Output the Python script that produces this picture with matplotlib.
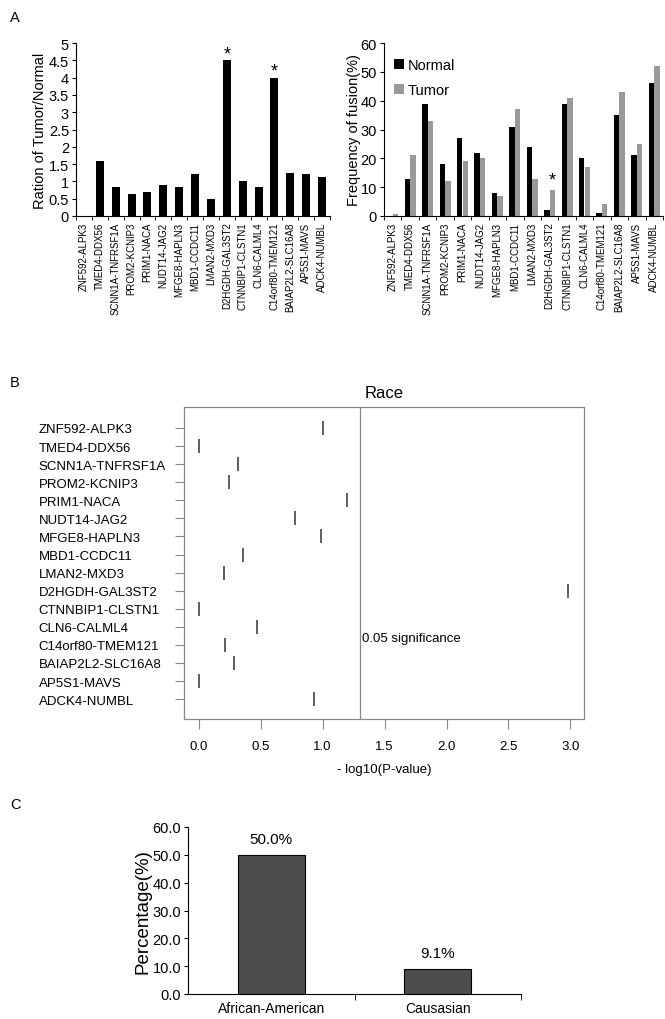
import matplotlib
matplotlib.use('Agg')
import matplotlib.pyplot as plt
import numpy as np
from matplotlib.ticker import FuncFormatter, FixedLocator

plt.rcParams['font.family'] = ['Liberation Sans', 'DejaVu Sans']

fusions = ['ZNF592-ALPK3', 'TMED4-DDX56', 'SCNN1A-TNFRSF1A', 'PROM2-KCNIP3',
           'PRIM1-NACA', 'NUDT14-JAG2', 'MFGE8-HAPLN3', 'MBD1-CCDC11',
           'LMAN2-MXD3', 'D2HGDH-GAL3ST2', 'CTNNBIP1-CLSTN1', 'CLN6-CALML4',
           'C14orf80-TMEM121', 'BAIAP2L2-SLC16A8', 'AP5S1-MAVS', 'ADCK4-NUMBL']
ratio = [0, 1.6, 0.85, 0.63, 0.68, 0.9, 0.85, 1.2, 0.5, 4.5, 1.02, 0.85, 4.0, 1.25, 1.2, 1.12]
normal = [0, 13, 39, 18, 27, 22, 8, 31, 24, 2, 39, 20, 1, 35, 21, 46]
tumor = [0.8, 21, 33, 12, 19, 20, 7, 37, 13, 9, 41, 17, 4, 43, 25, 52]
ratio_star = ['D2HGDH-GAL3ST2', 'C14orf80-TMEM121']
freq_star = ['D2HGDH-GAL3ST2']
neglogp = [1.0, 0.0, 0.32, 0.24, 1.20, 0.78, 0.99, 0.36, 0.20, 2.98,
           0.0, 0.47, 0.21, 0.28, 0.0, 0.93]
race = ['African-American', 'Causasian']
race_pct = [50.0, 9.1]

W, H = 665, 1020
fig = plt.figure(figsize=(W / 100, H / 100), dpi=100)


def box(l, t, r, b):
    return [l / W, 1 - b / H, (r - l) / W, (b - t) / H]


x = np.arange(len(fusions))
bounds = np.arange(len(fusions) + 1) - 0.5

# ---- A left
ax1 = fig.add_axes(box(76, 44, 330, 217))
ax1.bar(x, ratio, width=0.5, color='black')
for name in ratio_star:
    i = fusions.index(name)
    ax1.text(i, ratio[i] - 0.05, '*', ha='center', va='bottom', fontsize=13)
ax1.set_xlim(-0.5, len(fusions) - 0.5)
ax1.set_ylim(0, 5)
ax1.set_yticks(np.arange(0, 5.01, 0.5))
ax1.yaxis.set_major_formatter(FuncFormatter(lambda v, p: '%g' % v))
ax1.set_ylabel('Ration of Tumor/Normal', fontsize=10.5, labelpad=1)

# ---- A right
ax2 = fig.add_axes(box(384, 44, 663, 217))
ax2.bar(x - 0.16, normal, width=0.31, color='black', label='Normal')
ax2.bar(x + 0.16, tumor, width=0.31, color='#999999', label='Tumor')
for name in freq_star:
    i = fusions.index(name)
    ax2.text(i + 0.16, tumor[i] + 0.5, '*', ha='center', va='bottom', fontsize=13)
ax2.set_xlim(-0.5, len(fusions) - 0.5)
ax2.set_ylim(0, 60)
ax2.set_yticks(np.arange(0, 61, 10))
ax2.set_ylabel('Frequency of fusion(%)', fontsize=10.5, labelpad=0)
ax2.legend(loc='upper left', frameon=False, fontsize=10.5, handlelength=0.7,
           handletextpad=0.2, labelspacing=0.75, borderaxespad=0.3,
           bbox_to_anchor=(0.0, 0.97))

for ax in (ax1, ax2):
    ax.spines['top'].set_visible(False)
    ax.spines['right'].set_visible(False)
    ax.set_xticks(x)
    ax.set_xticklabels(fusions, rotation=90, fontsize=7)
    ax.xaxis.set_minor_locator(FixedLocator(bounds))
    ax.tick_params(axis='x', which='major', length=0, pad=4)
    ax.tick_params(axis='x', which='minor', length=3, direction='out')
    ax.tick_params(axis='y', labelsize=10.5, length=3, pad=2)

fig.text(10 / W, 1 - 18 / H, 'A', fontsize=10.5, va='center')

# ---- B
ax3 = fig.add_axes(box(184, 408, 584, 720))
rows = np.arange(len(fusions))
ax3.plot(neglogp, rows, linestyle='none', marker='|', markersize=9.5,
         markeredgewidth=1.1, color='#333333')
ax3.axvline(-np.log10(0.05), color='#888888', lw=0.9)
ax3.text(-np.log10(0.05) + 0.02, 11.6, '0.05 significance', fontsize=9.5,
         va='center', ha='left')
ax3.set_xlim(-0.12, 3.11)
ax3.set_ylim(len(fusions) - 1 + 1.1, -1.16)
ax3.set_yticks(rows)
ax3.set_yticklabels(fusions, fontsize=9.5, ha='left')
ax3.tick_params(axis='y', length=6.5, color='#888888', pad=98)
ax3.set_xticks(np.arange(0, 3.01, 0.5))
ax3.set_xticklabels(['%.1f' % v for v in np.arange(0, 3.01, 0.5)], fontsize=9.5)
ax3.tick_params(axis='x', length=7, color='#888888', pad=8)
for s in ax3.spines.values():
    s.set_color('#888888')
    s.set_linewidth(0.9)
ax3.set_title('Race', fontsize=12, pad=7)
ax3.set_xlabel('- log10(P-value)', fontsize=9.5, labelpad=8)
fig.text(10 / W, 1 - 383 / H, 'B', fontsize=10.5, va='center')

# ---- C
ax4 = fig.add_axes(box(188, 828, 521, 995))
xc = np.arange(len(race))
ax4.bar(xc, race_pct, width=0.4, color='#4d4d4d', edgecolor='black', linewidth=0.8)
for i, v in enumerate(race_pct):
    ax4.text(i, v + 3, '%.1f%%' % v, ha='center', va='bottom', fontsize=11)
ax4.set_xlim(-0.5, 1.5)
ax4.set_ylim(0, 60)
ax4.set_yticks(np.arange(0, 61, 10))
ax4.set_yticklabels(['%.1f' % v for v in np.arange(0, 61, 10)], fontsize=10.5)
ax4.set_xticks(xc)
ax4.set_xticklabels(race, fontsize=10)
ax4.xaxis.set_minor_locator(FixedLocator([0.5, 1.5]))
ax4.tick_params(axis='x', which='major', length=0, pad=5)
ax4.tick_params(axis='x', which='minor', length=4)
ax4.tick_params(axis='y', length=3, pad=2)
ax4.spines['top'].set_visible(False)
ax4.spines['right'].set_visible(False)
ax4.set_ylabel('Percentage(%)', fontsize=13.5, labelpad=1)
fig.text(10 / W, 1 - 805 / H, 'C', fontsize=10.5, va='center')

fig.savefig('out.png', dpi=100, facecolor='white')
